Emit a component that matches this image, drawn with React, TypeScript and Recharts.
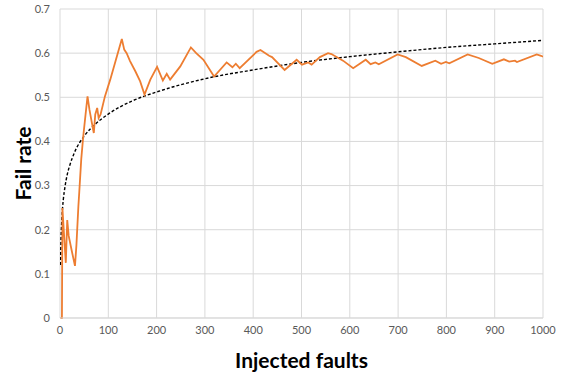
import { LineChart, Line, XAxis, YAxis, CartesianGrid, Label } from "recharts";

const faults = [
  1, 4, 5, 9, 12, 15, 18, 24, 31, 34, 38, 40, 44, 48, 53, 57, 61, 66, 70, 73, 77, 80, 84, 93,
  104, 114, 128, 133, 138, 145, 156, 166, 175, 187, 201, 213, 221, 228, 249, 271, 282, 297,
  319, 345, 357, 364, 372, 407, 415, 433, 439, 465, 490, 501, 514, 521, 538, 555, 562, 586,
  607, 633, 643, 653, 660, 699, 716, 749, 777, 789, 799, 806, 844, 867, 895, 919, 930, 942,
  946, 987, 996, 1000,
];
const failRate = [
  0, 0, 0.249, 0.177, 0.125, 0.222, 0.186, 0.154, 0.118, 0.165, 0.252, 0.287, 0.36, 0.41,
  0.462, 0.502, 0.472, 0.442, 0.419, 0.461, 0.476, 0.453, 0.461, 0.502, 0.54, 0.578, 0.632,
  0.608, 0.6, 0.582, 0.559, 0.536, 0.506, 0.54, 0.569, 0.538, 0.553, 0.54, 0.57, 0.613, 0.6,
  0.585, 0.547, 0.579, 0.568, 0.576, 0.566, 0.603, 0.607, 0.594, 0.591, 0.562, 0.585, 0.574,
  0.579, 0.574, 0.591, 0.6, 0.598, 0.583, 0.566, 0.585, 0.575, 0.579, 0.575, 0.597, 0.591,
  0.571, 0.583, 0.576, 0.58, 0.577, 0.597, 0.589, 0.576, 0.586, 0.581, 0.583, 0.58, 0.597,
  0.594, 0.592,
];

// dotted trend line, read at a few x positions
const trendX = [1, 2, 3, 5, 7, 10, 15, 20, 30, 50, 75, 100, 150, 200, 300, 400, 500, 600, 700, 800, 900, 1000];
const trendY = [0.12, 0.175, 0.205, 0.245, 0.27, 0.295, 0.325, 0.345, 0.375, 0.412, 0.441, 0.462, 0.492, 0.512, 0.542, 0.562, 0.579, 0.592, 0.603, 0.613, 0.621, 0.629];

const xTicks = [0, 100, 200, 300, 400, 500, 600, 700, 800, 900, 1000];
const yTicks = [0, 0.1, 0.2, 0.3, 0.4, 0.5, 0.6, 0.7];

const rateData = faults.map((x, i) => ({ x, rate: failRate[i] }));
const trendData = trendX.map((x, i) => ({ x, trend: trendY[i] }));

const font = "Lato, 'Open Sans', sans-serif";
const tick = { fontSize: 11, fill: "#595959", fontFamily: font };

export default function App() {
  return (
    <div style={{ position: "absolute", left: 0, top: 0, background: "#fff" }}>
      <LineChart width={563} height={374} margin={{ top: 9, right: 20, left: 0, bottom: 0 }}>
        <CartesianGrid stroke="#d9d9d9" strokeWidth={1} />
        <XAxis
          type="number"
          dataKey="x"
          domain={[0, 1000]}
          ticks={xTicks}
          height={56}
          tick={tick}
          tickLine={false}
          axisLine={{ stroke: "#d9d9d9" }}
          allowDataOverflow
        >
          <Label
            value="Injected faults"
            position="insideBottom"
            offset={6}
            style={{ fontSize: 21, fontWeight: 700, fill: "#000", fontFamily: font }}
          />
        </XAxis>
        <YAxis
          type="number"
          domain={[0, 0.7]}
          ticks={yTicks}
          width={60}
          tick={tick}
          tickLine={false}
          axisLine={false}
          tickMargin={4}
        >
          <Label
            content={({ viewBox }: any) => (
              <text
                x={22}
                y={viewBox.y + viewBox.height / 2}
                transform={`rotate(-90, 22, ${viewBox.y + viewBox.height / 2})`}
                textAnchor="middle"
                dominantBaseline="central"
                style={{ fontSize: 21, fontWeight: 700, fill: "#000", fontFamily: font }}
              >
                Fail rate
              </text>
            )}
          />
        </YAxis>
        <Line
          data={trendData}
          dataKey="trend"
          type="monotone"
          stroke="#000"
          strokeWidth={1.4}
          strokeDasharray="3 2"
          dot={false}
          isAnimationActive={false}
        />
        <Line
          data={rateData}
          dataKey="rate"
          type="linear"
          stroke="#ED7D31"
          strokeWidth={1.8}
          dot={false}
          isAnimationActive={false}
        />
      </LineChart>
    </div>
  );
}
